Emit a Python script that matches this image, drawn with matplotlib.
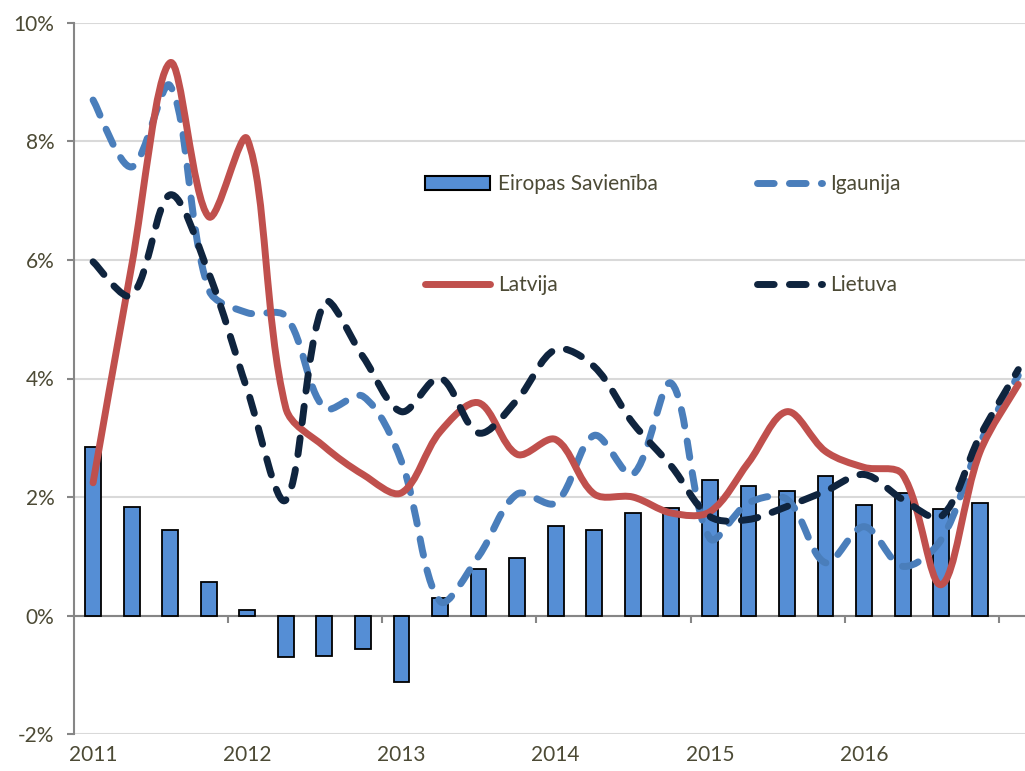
import numpy as np
import matplotlib
matplotlib.use("Agg")
import matplotlib.pyplot as plt
from matplotlib.path import Path
from matplotlib.patches import PathPatch, Patch
from matplotlib.lines import Line2D

# ── Data (quarterly, 2011Q1 .. ) ───────────────────────────────────────────
years = ["2011", "2012", "2013", "2014", "2015", "2016"]

eu = [2.85, 1.83, 1.45, 0.56, 0.09, -0.70, -0.69, -0.56, -1.12, 0.29, 0.79, 0.97,
      1.51, 1.44, 1.73, 1.82, 2.28, 2.19, 2.10, 2.35, 1.86, 2.07, 1.80, 1.90]

latvija = [2.24, 5.9, 9.33, 6.73, 8.04, 3.5, 2.85, 2.38, 2.07, 3.10, 3.59, 2.72,
           2.97, 2.05, 2.00, 1.73, 1.75, 2.58, 3.44, 2.77, 2.50, 2.38, 0.52, 2.75, 3.90]

igaunija = [8.70, 7.57, 8.94, 5.5, 5.11, 5.05, 3.50, 3.70, 2.60, 0.24, 1.00, 2.05,
            1.90, 3.04, 2.38, 3.92, 1.30, 1.90, 1.96, 0.89, 1.50, 0.83, 1.28, 2.90, 4.05]

lietuva = [5.97, 5.40, 7.10, 5.78, 3.81, 1.95, 5.28, 4.37, 3.44, 4.01, 3.08, 3.64,
           4.49, 4.20, 3.25, 2.52, 1.67, 1.62, 1.84, 2.10, 2.38, 1.96, 1.67, 3.02, 4.15]

# ── Style ──────────────────────────────────────────────────────────────────
TEXT_COLOR = "#4C4A35"
GRID_COLOR = "#D9D9D9"
AXIS_COLOR = "#868686"
BAR_COLOR = "#558ED5"
RED = "#C0504D"
LIGHT_BLUE = "#4A7EBB"
NAVY = "#0F243E"
FONT = "Lato"
FS = 15
LW = 5.0
DASH = (2.4, 2.2)
PX_X, PX_Y = 38.55, 59.3   # pixels per quarter / per percentage point

plt.rcParams["font.family"] = [FONT, "DejaVu Sans"]


def smooth_path(xs, ys):
    # smoothed line as cubic Bezier segments, handles weighted by segment length
    pts = np.column_stack([xs, ys]).astype(float)
    scale = np.array([PX_X, PX_Y])
    n = len(pts)

    def dist(a, b):
        return np.hypot(*((a - b) * scale))

    verts = [pts[0]]
    codes = [Path.MOVETO]
    for i in range(n - 1):
        p0 = pts[i - 1] if i > 0 else pts[i]
        p1 = pts[i]
        p2 = pts[i + 1]
        p3 = pts[i + 2] if i + 2 < n else pts[i + 1]
        d01, d12, d23 = dist(p0, p1), dist(p1, p2), dist(p2, p3)
        w1 = d12 / (d01 + d12) / 3.0 if d01 > 0 else 1 / 6.0
        w2 = d12 / (d12 + d23) / 3.0 if d23 > 0 else 1 / 6.0
        c1 = p1 + (p2 - p0) * w1
        c2 = p2 - (p3 - p1) * w2
        verts += [c1, c2, p2]
        codes += [Path.CURVE4] * 3
    return Path(verts, codes)


fig = plt.figure(figsize=(10.25, 7.71), dpi=100)
ax = fig.add_axes([73.8 / 1025, 1 - 734 / 771, 1 - 73.8 / 1025, (734 - 23) / 771])

x_bar = np.arange(len(eu)) + 0.5
x_line = np.arange(len(latvija)) + 0.5

ax.bar(x_bar, eu, width=0.41, color=BAR_COLOR, edgecolor="black", linewidth=1.3, zorder=3)

for vals, col, dashed in [(igaunija, LIGHT_BLUE, True), (latvija, RED, False), (lietuva, NAVY, True)]:
    patch = PathPatch(smooth_path(x_line, vals), fill=False, edgecolor=col, linewidth=LW,
                      capstyle="round", joinstyle="round", zorder=4)
    if dashed:
        patch.set_linestyle((0, DASH))
    ax.add_patch(patch)

ax.set_xlim(0, (1025 - 73.8) / PX_X)
ax.set_ylim(-2, 10)

# y axis
ax.set_yticks(np.arange(-2, 11, 2))
ax.set_yticklabels([f"{v}%" for v in range(-2, 11, 2)])
ax.yaxis.grid(True, color=GRID_COLOR, linewidth=1.5, zorder=0)
ax.set_axisbelow(True)
ax.tick_params(axis="y", direction="out", length=5, width=1.5, color=AXIS_COLOR,
               labelcolor=TEXT_COLOR, labelsize=FS, pad=9)

# x labels at the bottom, no ticks
ax.set_xticks(np.arange(len(years)) * 4 + 0.5)
ax.set_xticklabels(years)
ax.tick_params(axis="x", length=0, labelcolor=TEXT_COLOR, labelsize=FS, pad=8)

for s in ["top", "right", "bottom"]:
    ax.spines[s].set_visible(False)
ax.spines["left"].set_color(AXIS_COLOR)
ax.spines["left"].set_linewidth(1.5)

# category axis crossing at 0 with year-boundary ticks
sec = ax.secondary_xaxis(2 / 12)
sec.set_xticks(np.arange(4, 25, 4))
sec.set_xticklabels([])
sec.tick_params(direction="out", length=5, width=1.5, color=AXIS_COLOR)
sec.spines["bottom"].set_color(AXIS_COLOR)
sec.spines["bottom"].set_linewidth(1.5)
sec.set_zorder(2)

# legend: two columns placed separately
h_eu = Patch(facecolor=BAR_COLOR, edgecolor="black", linewidth=1.5)
h_lv = Line2D([], [], color=RED, linewidth=LW, solid_capstyle="round")
h_ee = Line2D([], [], color=LIGHT_BLUE, linewidth=LW, dashes=DASH, dash_capstyle="round")
h_lt = Line2D([], [], color=NAVY, linewidth=LW, dashes=DASH, dash_capstyle="round")

leg_kw = dict(frameon=False, fontsize=FS, labelcolor=TEXT_COLOR, handlelength=3.1,
              handletextpad=0.4, labelspacing=3.85, borderpad=0, loc="upper left",
              bbox_transform=fig.transFigure, handleheight=0.6)
leg1 = ax.legend([h_eu, h_lv], ["Eiropas Savienība", "Latvija"],
                 bbox_to_anchor=(415 / 1025, 1 - 164 / 771), **leg_kw)
ax.add_artist(leg1)
ax.legend([h_ee, h_lt], ["Igaunija", "Lietuva"],
          bbox_to_anchor=(747 / 1025, 1 - 164 / 771), **leg_kw)

fig.savefig("out.png", dpi=100, facecolor="white")
